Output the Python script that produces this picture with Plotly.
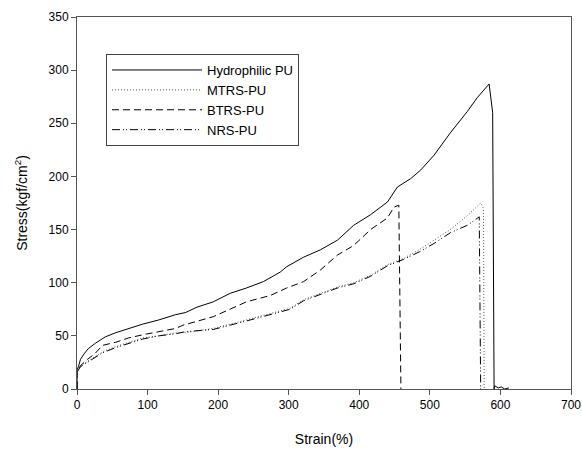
import plotly.graph_objects as go

# ---- data ----
hyd_strain = [0, 0, 2, 5, 10, 16, 26, 40, 55, 69, 93, 116, 140, 154, 170, 193, 217, 240, 264,
              288, 297, 321, 345, 369, 392, 416, 440, 454, 473, 487, 506, 529, 553, 567, 584,
              589, 591, 592, 597, 601, 606, 612]
hyd_stress = [0, 18, 21, 28, 33, 38, 43, 49, 53, 56, 61, 65, 70, 72, 77, 82, 90, 95, 101,
              110, 115, 124, 131, 140, 154, 164, 176, 190, 198, 206, 220, 241, 261, 274, 287,
              260, 0, 3, 1, 2, 0, 1]

mtrs_strain = [0, 0, 5, 22, 36, 55, 73, 93, 116, 140, 154, 193, 240, 274, 302, 321, 369, 392,
               416, 440, 463, 485, 506, 529, 553, 572, 576, 577]
mtrs_stress = [0, 15, 22, 29, 35, 40, 44, 48, 50, 53, 53, 57, 65, 71, 76, 84, 96, 100,
               107, 117, 123, 131, 140, 150, 163, 175, 170, 0]

btrs_strain = [0, 0, 5, 15, 25, 36, 55, 73, 93, 116, 140, 150, 193, 240, 274, 297, 321, 345,
               369, 392, 416, 440, 449, 456, 459]
btrs_stress = [0, 17, 22, 28, 33, 41, 44, 48, 51, 54, 57, 60, 68, 82, 88, 95, 101, 112,
               126, 135, 150, 161, 171, 173, 0]

nrs_strain = [0, 0, 5, 22, 36, 55, 73, 93, 116, 140, 154, 193, 240, 274, 302, 321, 369, 392,
              416, 440, 463, 485, 506, 529, 553, 570, 572]
nrs_stress = [0, 16, 21, 28, 34, 39, 43, 47, 50, 52, 54, 56, 64, 70, 75, 83, 95, 99,
              106, 116, 122, 129, 137, 147, 154, 162, 0]

series_names = ["Hydrophilic PU", "MTRS-PU", "BTRS-PU", "NRS-PU"]
x_ticks = [0, 100, 200, 300, 400, 500, 600, 700]
y_ticks = [0, 50, 100, 150, 200, 250, 300, 350]

FONT = "Liberation Sans, Arial, sans-serif"

fig = go.Figure()
fig.add_trace(go.Scatter(x=hyd_strain, y=hyd_stress, mode="lines", name=series_names[0],
                         line=dict(color="#000000", width=1, dash="solid")))
fig.add_trace(go.Scatter(x=mtrs_strain, y=mtrs_stress, mode="lines", name=series_names[1],
                         line=dict(color="#555555", width=1, dash="1px,2px")))
fig.add_trace(go.Scatter(x=btrs_strain, y=btrs_stress, mode="lines", name=series_names[2],
                         line=dict(color="#000000", width=1, dash="7px,4px")))
fig.add_trace(go.Scatter(x=nrs_strain, y=nrs_stress, mode="lines", name=series_names[3],
                         line=dict(color="#000000", width=1, dash="8px,3px,1px,2px,1px,3px")))

axis_common = dict(showline=True, linecolor="#555555", linewidth=1, mirror=True,
                   ticks="outside", ticklen=5, tickcolor="#555555", tickwidth=1,
                   showgrid=False, zeroline=False, automargin=False,
                   tickfont=dict(family=FONT, size=12, color="#000000"))

fig.update_xaxes(range=[0, 700], tickvals=x_ticks, ticktext=[str(v) for v in x_ticks],
                 title=dict(text="Strain(%)", font=dict(family=FONT, size=14, color="#000000"),
                            standoff=22),
                 **axis_common)
fig.update_yaxes(range=[0, 350], tickvals=y_ticks, ticktext=[str(v) for v in y_ticks],
                 title=dict(text="Stress(kgf/cm<sup>2</sup>)",
                            font=dict(family=FONT, size=14, color="#000000"), standoff=17),
                 **axis_common)

fig.update_layout(
    width=582, height=451,
    margin=dict(l=77, r=11, t=17, b=62),
    paper_bgcolor="white", plot_bgcolor="white",
    showlegend=True,
    legend=dict(x=0.0587, y=0.9005, xanchor="left", yanchor="top",
                bgcolor="white", bordercolor="#444444", borderwidth=1,
                font=dict(family=FONT, size=13, color="#000000"),
                itemwidth=90, tracegroupgap=0),
    font=dict(family=FONT),
)

fig.write_html("out.html")
